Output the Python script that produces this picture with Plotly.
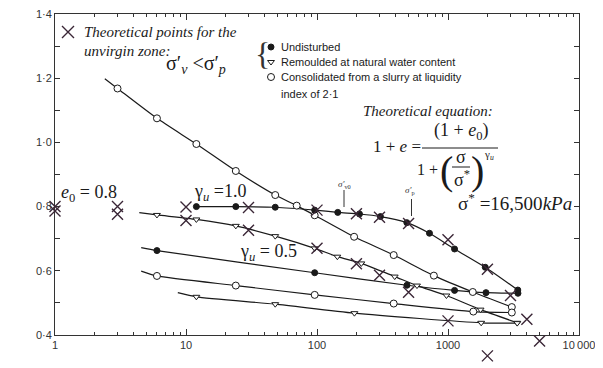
import plotly.graph_objects as go

# ---------------- data ----------------
# Consolidated from a slurry (open circles) - upper curve
slurry_up_x = [3, 6, 12, 24, 48, 70, 96, 192, 385, 780, 1545, 3070]
slurry_up_y = [1.168, 1.075, 0.995, 0.911, 0.836, 0.803, 0.773, 0.706, 0.649, 0.585, 0.534, 0.487]
slurry_up_start = (2.4, 1.198)

# Undisturbed (filled circles) - upper curve
undist_up_x = [12, 24, 48, 96, 144, 211, 305, 485, 722, 1122, 1925, 3410]
undist_up_y = [0.800, 0.800, 0.798, 0.789, 0.782, 0.777, 0.769, 0.750, 0.717, 0.668, 0.611, 0.540]
undist_up_start = (12, 0.800)

# Remoulded at natural water content (triangles) - upper curve
remould_up_x = [6, 12, 24, 48, 96, 143, 218, 392, 580, 973, 1773, 3376]
remould_up_y = [0.774, 0.760, 0.740, 0.708, 0.670, 0.644, 0.623, 0.582, 0.554, 0.523, 0.479, 0.438]
remould_up_start = (4.4, 0.781)

# Undisturbed - lower curve
undist_lo_x = [6, 96, 486, 1122, 1950, 3420]
undist_lo_y = [0.663, 0.594, 0.555, 0.539, 0.532, 0.530]
undist_lo_start = (4.55, 0.672)

# Slurry - lower curve
slurry_lo_x = [6, 24, 96, 385, 1560, 3070]
slurry_lo_y = [0.584, 0.554, 0.525, 0.498, 0.473, 0.470]
slurry_lo_start = (4.55, 0.599)

# Remoulded - lower curve
remould_lo_x = [12, 48, 193, 1792, 3376]
remould_lo_y = [0.519, 0.496, 0.468, 0.438, 0.437]
remould_lo_start = (8.66, 0.532)

# Theoretical points (crosses)
theory_g1_x = [1, 3, 10, 30, 100, 200, 300, 500, 1000, 2000, 3000, 4000, 5000]
theory_g1_y = [0.800, 0.800, 0.799, 0.797, 0.789, 0.778, 0.767, 0.747, 0.697, 0.605, 0.523, 0.449, 0.381]
theory_g05_x = [1, 3, 10, 30, 100, 200, 300, 500, 1000, 2000]
theory_g05_y = [0.786, 0.776, 0.757, 0.726, 0.670, 0.622, 0.586, 0.533, 0.444, 0.335]

x_tickvals = [1, 10, 100, 1000, 10000]
x_ticktext = ["1", "10", "100", "1000", "10\u2009000"]
y_tickvals = [0.4, 0.5, 0.6, 0.7, 0.8, 0.9, 1.0, 1.1, 1.2, 1.3, 1.4]
y_ticktext = ["0·4", "", "0·6", "", "0·8", "", "1·0", "", "1·2", "", "1·4"]

# ---------------- figure ----------------
INK = "#1a1a1a"
XCOL = "#3a2636"
SANS = "Liberation Sans, Arial, sans-serif"
SERIF = "Liberation Serif, Times New Roman, serif"

# geometry: the page body offsets the figure by 8px, so a 595x360 figure fills
# the 603x368 window. Visible plot box on screen: x 55..579, y 14..335.
FIG_W, FIG_H = 595, 360
M_L, M_R, M_T, M_B = 47, 24, 6, 10
PAPER_H = FIG_H - M_T - M_B
BOX_BOTTOM = 327  # figure px
Y_DOM0 = (FIG_H - M_B - BOX_BOTTOM) / PAPER_H
Y_LO, Y_HI = 0.4, 1.4
PX_PER_UNIT = (BOX_BOTTOM - M_T) / (Y_HI - Y_LO)
Y3_LO = Y_HI - PAPER_H / PX_PER_UNIT

fig = go.Figure()

curves = [
    (slurry_up_start, slurry_up_x, slurry_up_y, "circle", "white"),
    (undist_up_start, undist_up_x, undist_up_y, "circle", INK),
    (remould_up_start, remould_up_x, remould_up_y, "triangle-down", "white"),
    (undist_lo_start, undist_lo_x, undist_lo_y, "circle", INK),
    (slurry_lo_start, slurry_lo_x, slurry_lo_y, "circle", "white"),
    (remould_lo_start, remould_lo_x, remould_lo_y, "triangle-down", "white"),
]

for start, xs, ys, sym, fill in curves:
    fig.add_trace(go.Scatter(
        x=[start[0]] + xs, y=[start[1]] + ys, mode="lines",
        line=dict(color=INK, width=1.2, shape="spline", smoothing=0.6),
        showlegend=False, hoverinfo="skip"))

for start, xs, ys, sym, fill in curves:
    size = 7 if (sym == "circle" and fill == "white") else 6
    fig.add_trace(go.Scatter(
        x=xs, y=ys, mode="markers",
        marker=dict(symbol=sym, size=size, color=fill,
                    line=dict(color=INK, width=1)),
        showlegend=False, cliponaxis=False))

# theoretical crosses on an invisible axis pair that spans the full paper,
# with the same value-to-pixel scale, so points below 0.4 are still drawn
for xs, ys in [(theory_g1_x, theory_g1_y), (theory_g05_x, theory_g05_y)]:
    fig.add_trace(go.Scatter(
        x=xs, y=ys, mode="markers", xaxis="x3", yaxis="y3",
        marker=dict(symbol="x-thin", size=11, line=dict(color=XCOL, width=1.4)),
        showlegend=False, cliponaxis=False))

# legend keys on a screen-pixel overlay axis
fig.add_trace(go.Scatter(
    x=[68], y=[32], mode="markers", xaxis="x2", yaxis="y2",
    marker=dict(symbol="x-thin", size=12, line=dict(color=XCOL, width=1.4)),
    showlegend=False, cliponaxis=False))
fig.add_trace(go.Scatter(
    x=[271], y=[47], mode="markers", xaxis="x2", yaxis="y2",
    marker=dict(symbol="circle", size=6, color=INK, line=dict(color=INK, width=1)),
    showlegend=False, cliponaxis=False))
fig.add_trace(go.Scatter(
    x=[271], y=[62], mode="markers", xaxis="x2", yaxis="y2",
    marker=dict(symbol="triangle-down", size=6, color="white", line=dict(color=INK, width=1)),
    showlegend=False, cliponaxis=False))
fig.add_trace(go.Scatter(
    x=[271], y=[77], mode="markers", xaxis="x2", yaxis="y2",
    marker=dict(symbol="circle", size=7, color="white", line=dict(color=INK, width=1)),
    showlegend=False, cliponaxis=False))

ann = []
def T(x, y, text, size=11, family=SANS, xanchor="center", color=INK, angle=0):
    ann.append(dict(x=x, y=y, xref="x2", yref="y2", text=text, showarrow=False,
                    xanchor=xanchor, yanchor="middle", textangle=angle,
                    font=dict(size=size, family=family, color=color)))

T(82, 32, "<i>Theoretical points for the</i>", 15, SERIF, "left")
T(82, 51, "<i>unvirgin zone:</i>", 15, SERIF, "left")
T(196, 64, "σ′<sub><i>v</i></sub> <σ′<sub><i>p</i></sub>", 20, SERIF)

T(262, 54, "{", 32, SERIF, color="#333")
T(279, 47, "Undisturbed", 11, SANS, "left")
T(279, 62, "Remoulded at natural water content", 11, SANS, "left")
T(279, 77, "Consolidated from a slurry at liquidity", 11, SANS, "left")
T(279, 94, "index of 2·1", 11, SANS, "left")

T(428, 111, "<i>Theoretical equation:</i>", 15, SERIF)
T(397, 146, "1 + <i>e</i> =", 17, SERIF)
T(461, 131, "(1 + <i>e</i><sub>0</sub>)", 18, SERIF)
T(427, 169, "1 +", 16, SERIF)
T(446, 170, "(", 40, SERIF)
T(477, 170, ")", 40, SERIF)
T(461, 157, "σ", 18, SERIF)
T(462, 178, "σ<sup>*</sup>", 18, SERIF)
T(489, 155, "γ<sub><i>u</i></sub>", 11, SERIF)
T(515, 202, "σ<sup>*</sup> =16,500<i>kPa</i>", 19, SERIF)

T(89, 193, "<i>e</i><sub>0</sub> = 0.8", 18, SERIF)
T(220, 192, "γ<sub><i>u</i></sub> =1.0", 18, SERIF)
T(268, 252, "γ<sub><i>u</i></sub> = 0.5", 18, SERIF)

T(344, 184, "<i>σ′</i><sub>v0</sub>", 9, SERIF, color="#333")
T(410, 190, "<i>σ′</i><sub>p</sub>", 9, SERIF, color="#333")

T(328, 356, "Effective vertical pressure, <i>σ′</i><sub>v</sub>: kPa", 11, SANS, color="#222")
T(17, 173, "Void ratio, <i>e</i>", 11, SANS, color="#222", angle=-90)

shapes = [
    dict(type="line", xref="x2", yref="y2", x0=422, x1=498, y0=148, y1=148,
         line=dict(color=INK, width=1)),
    dict(type="line", xref="x2", yref="y2", x0=452, x1=470, y0=167, y1=167,
         line=dict(color=INK, width=1)),
    dict(type="line", xref="x2", yref="y2", x0=344, x1=344, y0=190, y1=207,
         line=dict(color="#333", width=1)),
    dict(type="line", xref="x2", yref="y2", x0=411.5, x1=411.5, y0=199, y1=216,
         line=dict(color="#333", width=1)),
]

minor_x = [m * 10 ** d for d in range(4) for m in range(2, 10)]

fig.update_layout(
    width=FIG_W, height=FIG_H,
    margin=dict(l=M_L, r=M_R, t=M_T, b=M_B, autoexpand=False),
    plot_bgcolor="rgba(0,0,0,0)", paper_bgcolor="white",
    showlegend=False,
    annotations=ann, shapes=shapes,
    xaxis=dict(type="log", range=[0, 4], tickmode="array",
               tickvals=x_tickvals, ticktext=x_ticktext,
               ticks="inside", ticklen=6, tickwidth=1, tickcolor="#333",
               showline=True, linecolor="#333", linewidth=1, mirror="ticks",
               showgrid=False, zeroline=False, ticklabeloverflow="allow",
               automargin=False,
               minor=dict(tickvals=minor_x, ticks="inside", ticklen=3,
                          tickcolor="#333", tickwidth=1, showgrid=False),
               tickfont=dict(size=11, family=SANS, color="#333")),
    yaxis=dict(range=[Y_LO, Y_HI], domain=[Y_DOM0, 1], tickmode="array",
               tickvals=y_tickvals, ticktext=y_ticktext,
               ticks="inside", ticklen=5, tickwidth=1, tickcolor="#333",
               showline=True, linecolor="#333", linewidth=1, mirror="ticks",
               showgrid=False, zeroline=False, ticklabeloverflow="allow",
               automargin=False,
               tickfont=dict(size=11, family=SANS, color="#333")),
    xaxis2=dict(overlaying="x", range=[55, 579], visible=False, anchor="y2"),
    yaxis2=dict(overlaying="y", range=[335, 14], visible=False, anchor="x2"),
    xaxis3=dict(type="log", range=[0, 4], domain=[0, 1], visible=False, anchor="y3"),
    yaxis3=dict(range=[Y3_LO, Y_HI], domain=[0, 1], visible=False, anchor="x3"),
)

fig.write_html("out.html")
